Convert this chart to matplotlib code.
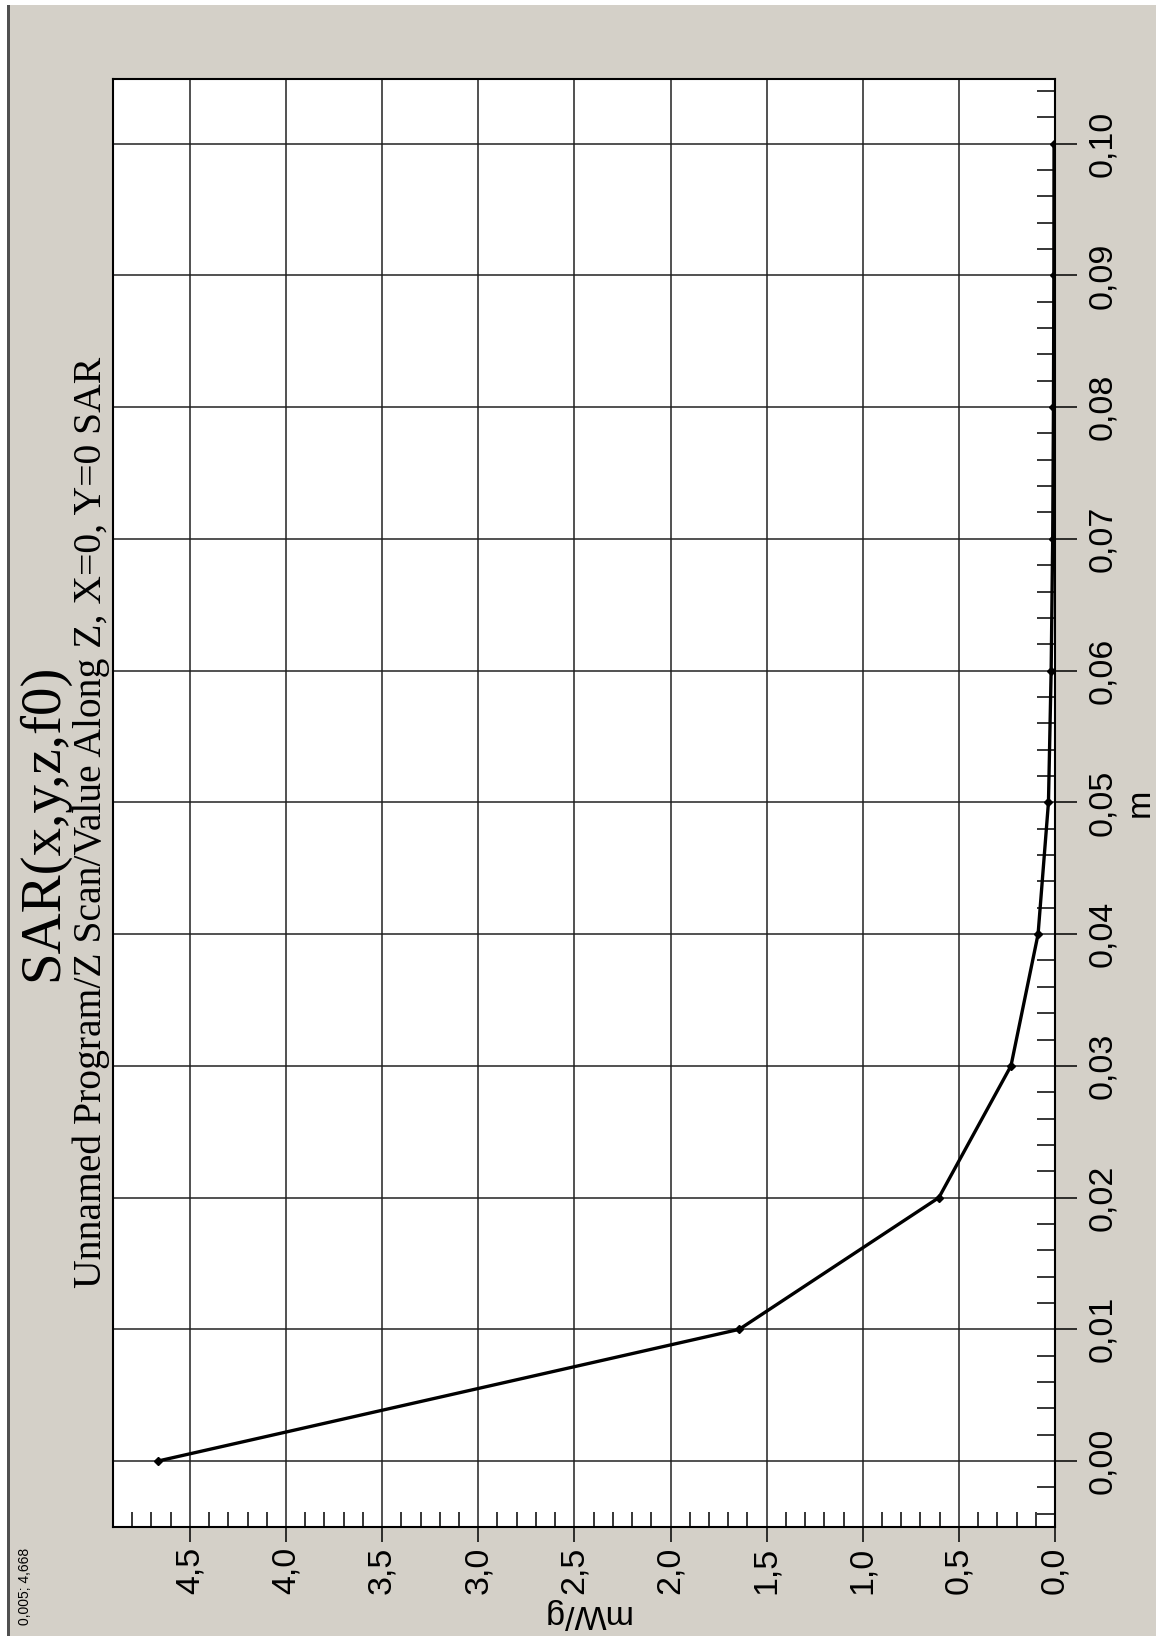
import matplotlib
matplotlib.use("Agg")
import matplotlib.pyplot as plt
from matplotlib.ticker import FixedLocator, MultipleLocator
from matplotlib.patches import Rectangle

# Z scan: distance along Z (m) and SAR value (mW/g)
z_m = [0.00, 0.01, 0.02, 0.03, 0.04, 0.05, 0.06, 0.07, 0.08, 0.09, 0.10]
sar_mw_g = [4.668, 1.643, 0.604, 0.229, 0.088, 0.034, 0.020, 0.012, 0.008, 0.006, 0.005]

z_ticks = [0.00, 0.01, 0.02, 0.03, 0.04, 0.05, 0.06, 0.07, 0.08, 0.09, 0.10]
z_tick_labels = ["0,00", "0,01", "0,02", "0,03", "0,04", "0,05",
                 "0,06", "0,07", "0,08", "0,09", "0,10"]
sar_ticks = [0.0, 0.5, 1.0, 1.5, 2.0, 2.5, 3.0, 3.5, 4.0, 4.5]
sar_tick_labels = ["0,0", "0,5", "1,0", "1,5", "2,0", "2,5", "3,0", "3,5", "4,0", "4,5"]

title = "SAR(x,y,z,f0)"
subtitle = "Unnamed Program/Z Scan/Value Along Z, X=0, Y=0 SAR"
cursor_text = "0,005; 4,668"

W, H = 1156, 1636
BG = "#D4D0C8"
SANS = ["Liberation Sans", "DejaVu Sans"]
SERIF = ["Liberation Serif", "DejaVu Serif"]

fig = plt.figure(figsize=(W / 100, H / 100), dpi=100, facecolor=BG)


def fx(px):
    return px / W


def fy(py):
    return 1 - py / H


# window edges
fig.patches.append(Rectangle((0, fy(5)), 1, 5 / H, transform=fig.transFigure,
                             facecolor="white", edgecolor="none", zorder=0))
fig.patches.append(Rectangle((0, 0), 7 / W, fy(5), transform=fig.transFigure,
                             facecolor="white", edgecolor="none", zorder=0))
fig.patches.append(Rectangle((7 / W, 0), 3 / W, fy(5), transform=fig.transFigure,
                             facecolor="#505050", edgecolor="none", zorder=0))

# rotated chart: SAR runs right-to-left, Z runs bottom-to-top
left, right, top, bottom = 113, 1055, 79, 1527
ax = fig.add_axes([fx(left), fy(bottom), (right - left) / W, (bottom - top) / H])
ax.set_facecolor("white")

ax.plot(sar_mw_g, z_m, color="black", lw=2.4, marker="D", ms=4.5,
        mfc="black", mec="black", zorder=3)

ax.set_xlim(4.90, 0.0)
ax.set_ylim(-0.0050, 0.1049)

ax.xaxis.set_major_locator(FixedLocator(sar_ticks))
ax.set_xticklabels(sar_tick_labels)
ax.xaxis.set_minor_locator(MultipleLocator(0.1))
ax.yaxis.set_major_locator(FixedLocator(z_ticks))
ax.set_yticklabels(z_tick_labels)
ax.yaxis.set_minor_locator(MultipleLocator(0.002))
ax.yaxis.tick_right()

ax.grid(True, which="major", color="#222222", lw=1.1)
ax.set_axisbelow(True)

ax.tick_params(axis="x", which="major", direction="out", length=11, width=1.1,
               bottom=True, top=False, pad=3, labelsize=24.5, labelrotation=90)
ax.tick_params(axis="x", which="minor", direction="in", length=11, width=1.1,
               bottom=True, top=False)
ax.tick_params(axis="y", which="major", direction="out", length=16, width=1.1,
               right=True, left=False, pad=7, labelsize=24.5, labelrotation=90)
ax.tick_params(axis="y", which="minor", direction="in", length=13, width=1.1,
               right=True, left=False)
for lab in ax.get_xticklabels() + ax.get_yticklabels():
    lab.set_family(SANS)
for lab in ax.get_yticklabels():
    lab.set_verticalalignment("center")

for s in ax.spines.values():
    s.set_linewidth(1.5)
    s.set_color("black")

# axis titles
fig.text(fx(1140), fy(803), "m", rotation=90, ha="center", va="center",
         fontsize=24.5, family=SANS)
fig.text(fx(585), fy(1613), "mW/g", rotation=180, ha="center", va="center",
         fontsize=24.5, family=SANS)

# chart titles
fig.text(fx(43), fy(822), title, rotation=90, ha="center", va="center",
         fontsize=41, family=SERIF)
fig.text(fx(91), fy(822), subtitle, rotation=90, ha="center", va="center",
         fontsize=28.5, family=SERIF)

# cursor readout
fig.text(fx(25), fy(1586), cursor_text, rotation=90, ha="center", va="center",
         fontsize=10, family=SANS)

fig.savefig("out.png", dpi=100, facecolor=BG)
